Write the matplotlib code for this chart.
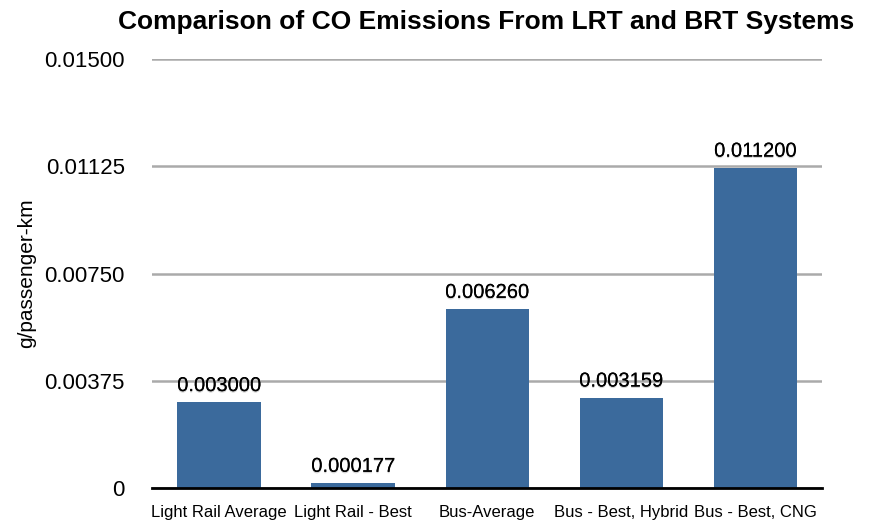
import matplotlib
matplotlib.use("Agg")
import matplotlib.pyplot as plt
import matplotlib.patheffects as pe

plt.rcParams['font.family'] = ['Liberation Sans', 'DejaVu Sans']

systems = ["Light Rail Average", "Light Rail - Best", "Bus-Average",
           "Bus - Best, Hybrid", "Bus - Best, CNG"]
co_emissions = [0.003000, 0.000177, 0.006260, 0.003159, 0.011200]
y_ticks = [0, 0.00375, 0.0075, 0.01125, 0.015]
y_tick_labels = ["0", "0.00375", "0.00750", "0.01125", "0.01500"]

fig = plt.figure(figsize=(8.7, 5.23), dpi=100)
ax = fig.add_axes([0.1747, 0.0669, 0.7703, 0.8201])

x = range(len(systems))
bars = ax.bar(x, co_emissions, width=0.62, color="#3b6a9c", zorder=3)

ax.set_xlim(-0.5, len(systems) - 0.5)
ax.set_ylim(0, 0.015)
ax.set_yticks(y_ticks)
ax.set_yticklabels(y_tick_labels, fontsize=16)
ax.set_xticks(list(x))
ax.set_xticklabels(systems, fontsize=12)
ax.tick_params(axis="x", length=0, pad=12)
ax.tick_params(axis="y", length=0, pad=19.5)

ax.yaxis.grid(True, color="#aaaaaa", linewidth=1.8, zorder=0)
for side in ["top", "right", "left"]:
    ax.spines[side].set_visible(False)
ax.spines["bottom"].set_linewidth(2)
ax.spines["bottom"].set_zorder(4)

# soft drop shadow under the value labels
shadow = [pe.withSimplePatchShadow(offset=(0, -1), shadow_rgbFace="#888888", alpha=0.35),
          pe.Normal()]
for rect, val in zip(bars, co_emissions):
    ax.text(rect.get_x() + rect.get_width() / 2, val + 0.00025, f"{val:.6f}",
            ha="center", va="bottom", fontsize=14.5, zorder=5, path_effects=shadow)

ax.set_ylabel("g/passenger-km", fontsize=15, labelpad=6)
fig.text(0.559, 0.957, "Comparison of CO Emissions From LRT and BRT Systems",
         ha="center", va="center", fontsize=19, fontweight="bold")

fig.savefig("out.png", dpi=100)
